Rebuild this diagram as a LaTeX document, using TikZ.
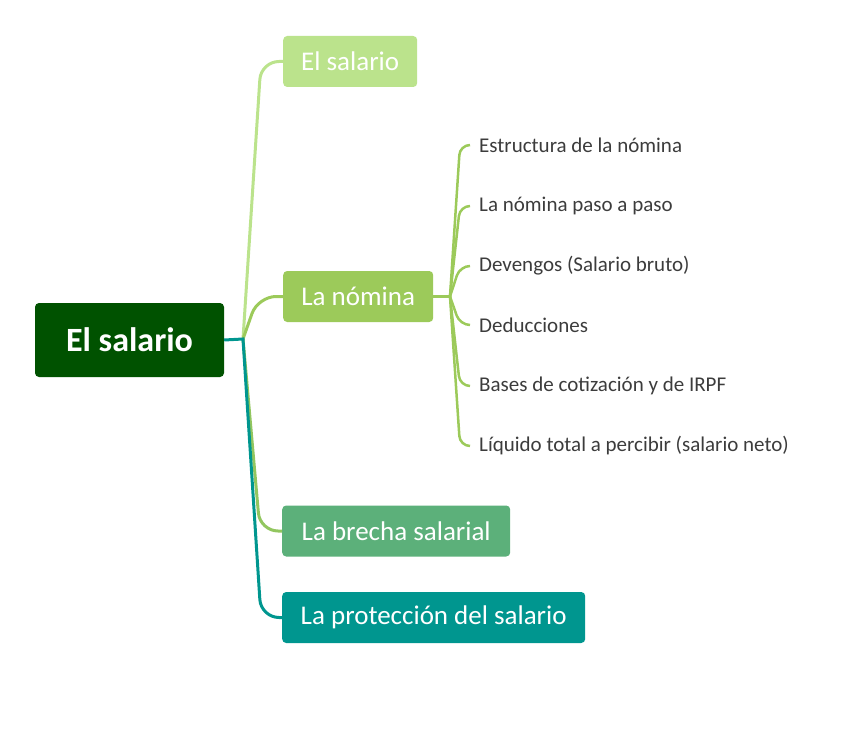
\documentclass[tikz,border=0pt]{standalone}
\usepackage{fontspec}
\setmainfont{Carlito}
\definecolor{rootgreen}{RGB}{0,82,0}
\definecolor{lightgreen}{RGB}{187,227,140}
\definecolor{midgreen}{RGB}{156,202,90}
\definecolor{seagreen}{RGB}{92,176,122}
\definecolor{tealgreen}{RGB}{0,150,143}
\definecolor{leafgray}{RGB}{60,60,60}
\begin{document}
\begin{tikzpicture}[x=1pt, y=-1pt,
    rootbox/.style={rectangle, rounded corners=4pt, fill=rootgreen, text=white, font=\fontsize{34}{40}\selectfont\bfseries, minimum width=189pt, minimum height=74pt},
    topicbox/.style={rectangle, rounded corners=4pt, text=white, font=\fontsize{27}{32}\selectfont, minimum height=51pt, anchor=west},
    leafnode/.style={anchor=west, inner xsep=9pt, inner ysep=3pt, text=leafgray, font=\fontsize{21}{25}\selectfont},
    link/.style={line width=3pt, rounded corners=18pt},
    leaflink/.style={line width=2.5pt, midgreen, rounded corners=10pt}]
  \useasboundingbox (0,0) rectangle (848,743);
  \node[rootbox] (root) at (129.5, 340) {El salario};
  \node[topicbox, fill=lightgreen, minimum width=134pt] (T1) at (283, 61.5) {El salario};
  \node[topicbox, fill=midgreen, minimum width=150pt] (T2) at (283, 296.5) {La nómina};
  \node[topicbox, fill=seagreen, minimum width=228pt] (T3) at (282, 531) {La brecha salarial};
  \node[topicbox, fill=tealgreen, minimum width=303pt] (T4) at (282, 617.5) {La protección del salario};
  \node[leafnode] (L1) at (470, 145) {Estructura de la nómina};
  \node[leafnode] (L2) at (470, 206) {La nómina paso a paso};
  \node[leafnode] (L3) at (470, 266) {Devengos (Salario bruto)};
  \node[leafnode] (L4) at (470, 325) {Deducciones};
  \node[leafnode] (L5) at (470, 386) {Bases de cotización y de IRPF};
  \node[leafnode] (L6) at (470, 446) {Líquido total a percibir (salario neto)};
  \coordinate (J) at (243, 339);
  \coordinate (K) at (450, 296.5);
  \draw[link, lightgreen] (J) -- (261, 61.5) -- (T1.west);
  \draw[link, midgreen] (J) -- (258, 296.5) -- (T2.west);
  \draw[link, midgreen!85!seagreen] (J) -- (260, 531) -- (T3.west);
  \draw[line width=3pt, tealgreen] (root.east) -- (J) [rounded corners=18pt] -- (261, 617.5) -- (T4.west);
  \draw[leaflink] (T2.east) -- (K);
  \draw[leaflink] (K) -- (460, 145) -- (L1.west);
  \draw[leaflink] (K) -- (460, 206) -- (L2.west);
  \draw[leaflink] (K) -- (460, 266) -- (L3.west);
  \draw[leaflink] (K) -- (460, 325) -- (L4.west);
  \draw[leaflink] (K) -- (460, 386) -- (L5.west);
  \draw[leaflink] (K) -- (460, 446) -- (L6.west);
\end{tikzpicture}
\end{document}
